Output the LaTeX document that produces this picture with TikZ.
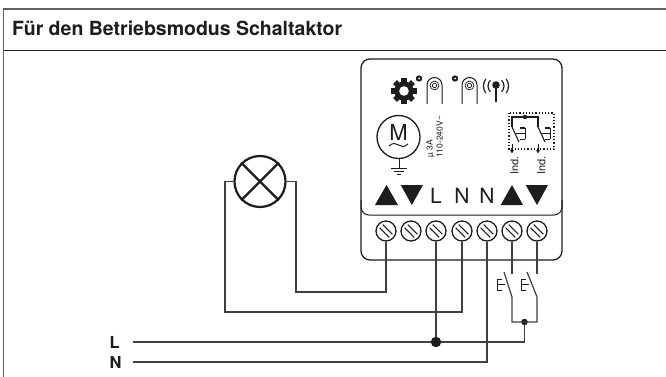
\documentclass[tikz,border=0pt]{standalone}
\usepackage{fontspec}
\setmainfont{TeX Gyre Heros}
\usetikzlibrary{calc}
\definecolor{ink}{HTML}{1D1D1B}
\tikzset{
  wire/.style={draw=ink!85!white,line width=1.2pt,line join=miter},
  outline/.style={draw=ink,line width=1.3pt},
  term/.style={circle,draw=ink,line width=1.3pt,minimum size=20pt,inner sep=0pt},
  jun/.style={circle,fill=ink,inner sep=0pt},
  tri/.style={fill=ink,draw=none},
  big/.style={font=\fontsize{21}{21}\selectfont,text=ink,inner sep=0pt},
  tiny/.style={font=\fontsize{8.5}{9}\selectfont,text=ink,inner sep=0pt,rotate=90},
  finger/.style={draw=ink,line width=1pt},
}
\begin{document}
\begin{tikzpicture}[x=1pt,y=-1pt]
\useasboundingbox (0,0) rectangle (666,377);
\fill[white] (0,0) rectangle (666,377);
% frame
\draw[draw=ink!70!white,line width=2pt] (3,9) -- (666,9);
\draw[draw=ink!70!white,line width=1pt] (3.5,9) -- (3.5,377);
\draw[draw=ink,line width=1.2pt] (3.5,50.5) -- (666,50.5);
\node[anchor=base west,inner sep=0pt,text=ink,font=\fontsize{19.5}{20}\selectfont\bfseries] (title) at (12,36) {Für den Betriebsmodus Schaltaktor};
% device
\draw[outline,rounded corners=9pt] (361,59) rectangle (562,260);
\draw[draw=ink,line width=1pt,rounded corners=8pt] (361,200) -- (361,215) -- (562,215) -- (562,200);
% terminals
\foreach \n/\x in {1/386,2/411,3/436,4/462,5/487,6/512,7/537}{
  \node[term] (t\n) at (\x,231) {};
  \draw[draw=ink,line width=1pt] (\x-6.4,231-3.2) -- (\x+3.2,231+6.4);
  \draw[draw=ink,line width=1pt] (\x-3.2,231-6.4) -- (\x+6.4,231+3.2);
}
% triangles
\fill[tri] (375,205) -- (398,205) -- (386.5,185) -- cycle;
\fill[tri] (400.7,185) -- (423,185) -- (411.8,205) -- cycle;
\fill[tri] (500.7,205) -- (523,205) -- (512,185) -- cycle;
\fill[tri] (525.7,185) -- (548,185) -- (537,205) -- cycle;
\node[big,anchor=base] (lblL) at (436,203) {L};
\node[big,anchor=base] (lblN1) at (462,203) {N};
\node[big,anchor=base] (lblN2) at (487,203) {N};
% gear
\fill[ink] (404,91) circle (9.6);
\foreach \a in {0,45,...,315}{
  \fill[ink,rotate around={\a:(404,91)}] (401.2,78.3) rectangle (406.8,84);
}
\fill[white] (404,91) circle (4.8);
% small circles
\fill[ink] (419,78.5) circle (3.2);
\fill[white] (419,78.5) circle (1);
\fill[ink] (455,78.5) circle (3.2);
\fill[white] (455,78.5) circle (1);
% fingers
\foreach \x in {434.5,469.5}{
  \draw[finger] (\x-7.5,104) -- (\x-7.5,85) arc[start angle=180,end angle=360,radius=7.5] -- (\x+7.5,104);
  \draw[draw=ink,line width=0.7pt] (\x,85.5) circle (4.4);
  \draw[draw=ink,line width=0.7pt] (\x,85.5) circle (2.2);
}
% antenna
\fill[ink] (496,85) circle (3.8);
\draw[draw=ink,line width=2.4pt] (496,85) -- (496,102);
\draw[draw=ink,line width=1.2pt] (496,86) ++(225:8) arc[start angle=225,end angle=135,radius=8];
\draw[draw=ink,line width=1.2pt] (496,86) ++(215:12.5) arc[start angle=215,end angle=145,radius=12.5];
\draw[draw=ink,line width=1.2pt] (496,86) ++(315:8) arc[start angle=315,end angle=405,radius=8];
\draw[draw=ink,line width=1.2pt] (496,86) ++(325:12.5) arc[start angle=325,end angle=395,radius=12.5];
% motor
\node[circle,draw=ink,line width=1.3pt,minimum size=43pt,inner sep=0pt] (motor) at (398.5,137) {};
\node[anchor=base,inner sep=0pt,text=ink,font=\fontsize{22}{22}\selectfont] (mlabel) at (398.5,140) {M};
\draw[draw=ink,line width=1pt] (389,146) .. controls (393,142.5) and (396,143) .. (398.5,145) .. controls (401,147) and (404,147.5) .. (408,144);
\draw[draw=ink,line width=1pt] (399,158) -- (399,168);
\draw[draw=ink,line width=1pt] (391,168) -- (407,168);
\draw[draw=ink,line width=0.9pt] (394,171) -- (404,171);
\draw[draw=ink,line width=0.8pt] (397,174) -- (401,174);
% rotated text
\node[tiny,anchor=west] (amp) at (430.5,158) {µ 3A};
\node[tiny,anchor=west] (volt) at (439.5,158) {110-240V\textasciitilde};
% switch box
\draw[draw=ink,line width=1.2pt,dotted] (509,113) rectangle (554,149);
\draw[draw=ink,line width=1.2pt] (512,127) -- (512,117) -- (538,117) -- (538,127);
\fill[ink] (525,117) circle (2.2);
\draw[draw=ink,line width=1.1pt] (512,127) -- (519,142);
\draw[draw=ink,line width=1.1pt] (538,127) -- (545,142);
\draw[draw=ink,line width=1pt] (516,133.5) -- (525,133.5) (525,128) -- (525,139) (525,128) -- (520,128) (525,139) -- (520,139);
\draw[draw=ink,line width=1pt] (542,133.5) -- (550,133.5) (550,128) -- (550,139) (550,128) -- (545,128) (550,139) -- (545,139);
\draw[draw=ink,line width=0.9pt] (512,144) -- (512,152);
\draw[draw=ink,line width=0.9pt] (538,144) -- (538,152);
\fill[ink] (510,150) -- (514,150) -- (512,153.5) -- cycle;
\fill[ink] (536,150) -- (540,150) -- (538,153.5) -- cycle;
\node[tiny,anchor=west,font=\fontsize{11}{11}\selectfont] (ind1) at (514.5,175) {Ind.};
\node[tiny,anchor=west,font=\fontsize{11}{11}\selectfont] (ind2) at (541.5,175) {Ind.};
% lamp
\node[circle,draw=ink,line width=2.2pt,minimum size=51pt,inner sep=0pt] (lamp) at (260,181.5) {};
\draw[draw=ink,line width=2.2pt] (lamp.north west) -- (lamp.south east);
\draw[draw=ink,line width=2.2pt] (lamp.south west) -- (lamp.north east);
% wires
\coordinate (lstart) at (133,342);
\coordinate (nstart) at (133,362);
\node[anchor=west,inner sep=0pt,text=ink,font=\fontsize{16.5}{16}\selectfont\bfseries] (lL) at (109.5,342) {L};
\node[anchor=west,inner sep=0pt,text=ink,font=\fontsize{16.5}{16}\selectfont\bfseries] (lN) at (109.5,362) {N};
\node[jun,minimum size=10.5pt] (j1) at (436,342) {};
\node[jun,minimum size=6.5pt] (j2) at (524.5,322) {};
\draw[wire] (t1.south) |- (296,292) -- (296,181.5) -- (lamp.east);
\draw[wire] (lamp.west) -- (225,181.5) -- (225,312) -| (t4.south);
\draw[wire] (t3.south) -- (j1);
\draw[wire] (lstart) -- (j1) -- (524.5,342) -- (j2);
\draw[wire] (nstart) -- (487,362) -- (t5.south);
% pushbuttons
\coordinate (s1) at (512,274);
\coordinate (s2) at (537,274);
\draw[wire] (t6.south) -- (s1);
\draw[wire] (t7.south) -- (s2);
\draw[wire] (504,272) -- (512,297) -- (512,322) -- (537,322) -- (537,297) -- (527,272);
\draw[draw=ink,line width=1pt] (505,284.5) -- (497,284.5) (497,279.5) -- (497,290) (497,279.5) -- (501.5,279.5) (497,290) -- (501.5,290);
\draw[draw=ink,line width=1pt] (529,284.5) -- (521,284.5) (521,279.5) -- (521,290) (521,279.5) -- (525.5,279.5) (521,290) -- (525.5,290);
\end{tikzpicture}
\end{document}
